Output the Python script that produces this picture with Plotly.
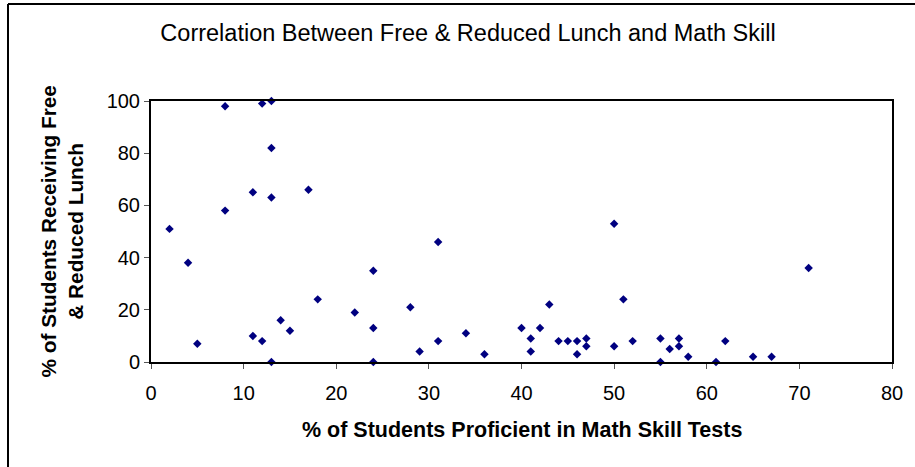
import plotly.graph_objects as go

math_proficient = [2, 4, 5, 8, 8, 11, 11, 12, 12, 13, 13, 13, 13, 14, 15, 17, 18, 22, 24, 24, 24,
                   28, 29, 31, 31, 34, 36, 40, 41, 41, 42, 43, 44, 45, 46, 46, 47, 47, 50, 50,
                   51, 52, 55, 55, 56, 57, 57, 58, 61, 62, 65, 67, 71]
free_lunch = [51, 38, 7, 98, 58, 65, 10, 99, 8, 100, 82, 63, 0, 16, 12, 66, 24, 19, 35, 13, 0,
              21, 4, 46, 8, 11, 3, 13, 9, 4, 13, 22, 8, 8, 8, 3, 9, 6, 53, 6,
              24, 8, 9, 0, 5, 9, 6, 2, 0, 8, 2, 2, 36]

x_ticks = [0, 10, 20, 30, 40, 50, 60, 70, 80]
y_ticks = [0, 20, 40, 60, 80, 100]

FONT = "Liberation Sans, Arial, sans-serif"

fig = go.Figure()
fig.add_trace(go.Scatter(
    x=math_proficient, y=free_lunch, mode="markers",
    marker=dict(symbol="diamond", size=6.5, color="#000080", line=dict(width=0)),
    cliponaxis=False, showlegend=False,
))

fig.update_layout(
    width=915, height=467,
    margin=dict(l=151, r=23, t=101, b=105),
    paper_bgcolor="white", plot_bgcolor="white",
    font=dict(family=FONT, color="black", size=20),
    title=dict(text="Correlation Between Free & Reduced Lunch and Math Skill",
               x=468 / 915, xanchor="center", xref="container",
               y=1 - 33 / 467, yanchor="middle", yref="container",
               font=dict(size=23.5, family=FONT, color="black")),
    xaxis=dict(range=[0, 80], tickvals=x_ticks, ticks="outside", ticklen=5, tickwidth=1,
               tickcolor="#555", showgrid=False, zeroline=False, showline=True,
               linecolor="black", linewidth=2, mirror=True, tickfont=dict(size=20),
               ticklabelstandoff=7),
    yaxis=dict(range=[0, 100], tickvals=y_ticks, ticks="outside", ticklen=5, tickwidth=1,
               tickcolor="#555", showgrid=False, zeroline=False, showline=True,
               linecolor="black", linewidth=2, mirror=True, tickfont=dict(size=20)),
    annotations=[
        dict(text="<b>% of Students Proficient in Math Skill Tests</b>",
             x=0.5, xref="paper", y=-68 / 261, yref="paper", yanchor="middle",
             showarrow=False, font=dict(size=21.5, family=FONT)),
        dict(text="<b>% of Students Receiving Free<br>& Reduced Lunch</b>",
             x=-90 / 741, xref="paper", xanchor="center", y=0.5, yref="paper",
             yanchor="middle", textangle=-90, showarrow=False,
             font=dict(size=20.8, family=FONT)),
    ],
    shapes=[
        dict(type="line", xref="paper", yref="paper",
             x0=(8 - 151) / 741, x1=(8 - 151) / 741, y0=(362 - 4) / 261, y1=(362 - 470) / 261,
             line=dict(color="black", width=2)),
        dict(type="line", xref="paper", yref="paper",
             x0=(8 - 151) / 741, x1=(915 - 151) / 741, y0=(362 - 4) / 261, y1=(362 - 4) / 261,
             line=dict(color="black", width=2)),
    ],
)

fig.write_html("out.html", config={"displayModeBar": False},
               post_script="document.body.style.margin='0';")
